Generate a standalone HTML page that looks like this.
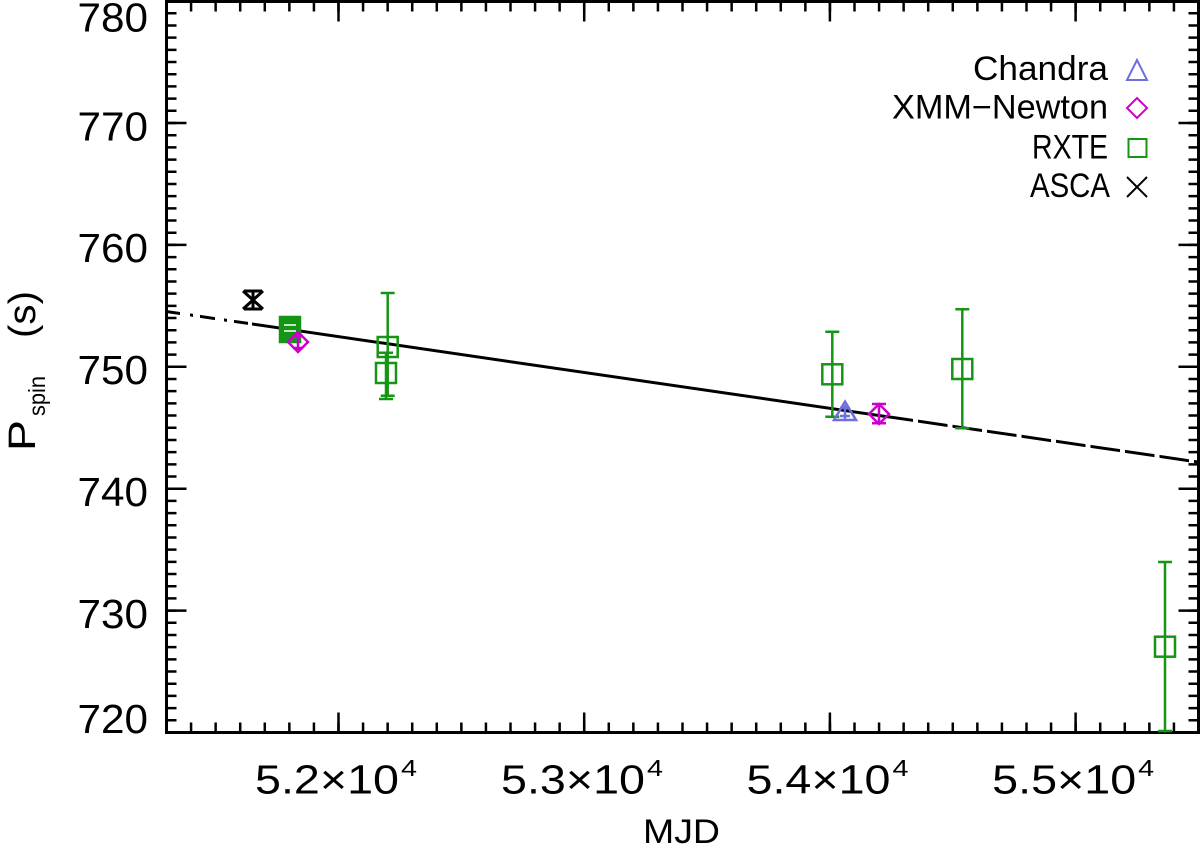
<!DOCTYPE html>
<html><head><meta charset="utf-8"><style>
html,body{margin:0;padding:0;background:#fff;}
svg{display:block;}
text{font-family:"Liberation Sans",sans-serif;fill:#000;}
</style></head><body>
<svg width="1200" height="848" viewBox="0 0 1200 848" xmlns="http://www.w3.org/2000/svg">
<rect width="1200" height="848" fill="#fff"/>

<!-- minor ticks -->
<g stroke="#000" fill="none">
  <line x1="171.5" y1="732.5" x2="171.5" y2="1.5" stroke-width="10" stroke-dasharray="2.5 9.69" stroke-dashoffset="1.25"/>
  <line x1="1193.5" y1="732.5" x2="1193.5" y2="1.5" stroke-width="10" stroke-dasharray="2.5 9.69" stroke-dashoffset="1.25"/>
  <line x1="166.5" y1="727.5" x2="1198.5" y2="727.5" stroke-width="10" stroke-dasharray="2.5 22.0714" stroke-dashoffset="1.25"/>
  <line x1="166.5" y1="6.5" x2="1198.5" y2="6.5" stroke-width="10" stroke-dasharray="2.5 22.0714" stroke-dashoffset="1.25"/>
</g>
<!-- major ticks -->
<g stroke="#000" stroke-width="2.5">
  <line x1="166.5" y1="610.6" x2="186.5" y2="610.6"/>
  <line x1="166.5" y1="488.7" x2="186.5" y2="488.7"/>
  <line x1="166.5" y1="366.8" x2="186.5" y2="366.8"/>
  <line x1="166.5" y1="244.9" x2="186.5" y2="244.9"/>
  <line x1="166.5" y1="123.0" x2="186.5" y2="123.0"/>
  <line x1="1178.5" y1="610.6" x2="1198.5" y2="610.6"/>
  <line x1="1178.5" y1="488.7" x2="1198.5" y2="488.7"/>
  <line x1="1178.5" y1="366.8" x2="1198.5" y2="366.8"/>
  <line x1="1178.5" y1="244.9" x2="1198.5" y2="244.9"/>
  <line x1="1178.5" y1="123.0" x2="1198.5" y2="123.0"/>
  <line x1="338.5" y1="732.5" x2="338.5" y2="712.5"/>
  <line x1="584.2" y1="732.5" x2="584.2" y2="712.5"/>
  <line x1="829.9" y1="732.5" x2="829.9" y2="712.5"/>
  <line x1="1075.6" y1="732.5" x2="1075.6" y2="712.5"/>
  <line x1="338.5" y1="1.5" x2="338.5" y2="21.5"/>
  <line x1="584.2" y1="1.5" x2="584.2" y2="21.5"/>
  <line x1="829.9" y1="1.5" x2="829.9" y2="21.5"/>
  <line x1="1075.6" y1="1.5" x2="1075.6" y2="21.5"/>
</g>
<!-- axes box -->
<rect x="166.5" y="1.5" width="1032" height="731" fill="none" stroke="#000" stroke-width="3"/>

<!-- y tick labels -->
<g font-size="41">
  <text x="77.5" y="31.5" textLength="70.5" lengthAdjust="spacingAndGlyphs">780</text>
  <text x="77.5" y="140.5" textLength="70.5" lengthAdjust="spacingAndGlyphs">770</text>
  <text x="77.5" y="262" textLength="70.5" lengthAdjust="spacingAndGlyphs">760</text>
  <text x="77.5" y="384" textLength="70.5" lengthAdjust="spacingAndGlyphs">750</text>
  <text x="77.5" y="506" textLength="70.5" lengthAdjust="spacingAndGlyphs">740</text>
  <text x="77.5" y="628" textLength="70.5" lengthAdjust="spacingAndGlyphs">730</text>
  <text x="77.5" y="733" textLength="70.5" lengthAdjust="spacingAndGlyphs">720</text>
</g>

<!-- x tick labels -->
<g>
  <text x="255" y="793.5" font-size="41" textLength="144" lengthAdjust="spacingAndGlyphs">5.2×10</text>
  <text x="401" y="776" font-size="23" textLength="16" lengthAdjust="spacingAndGlyphs">4</text>
  <text x="501" y="793.5" font-size="41" textLength="144" lengthAdjust="spacingAndGlyphs">5.3×10</text>
  <text x="647" y="776" font-size="23" textLength="16" lengthAdjust="spacingAndGlyphs">4</text>
  <text x="746.5" y="793.5" font-size="41" textLength="144" lengthAdjust="spacingAndGlyphs">5.4×10</text>
  <text x="892.5" y="776" font-size="23" textLength="16" lengthAdjust="spacingAndGlyphs">4</text>
  <text x="992.2" y="793.5" font-size="41" textLength="144" lengthAdjust="spacingAndGlyphs">5.5×10</text>
  <text x="1138.2" y="776" font-size="23" textLength="16" lengthAdjust="spacingAndGlyphs">4</text>
</g>

<!-- axis titles -->
<text x="643" y="843" font-size="34" textLength="77" lengthAdjust="spacingAndGlyphs">MJD</text>
<g transform="translate(35,451) rotate(-90)">
  <text x="0" y="0" font-size="38" textLength="31" lengthAdjust="spacingAndGlyphs">P</text>
  <text x="35" y="10" font-size="23" textLength="40" lengthAdjust="spacingAndGlyphs">spin</text>
  <text x="113" y="0" font-size="38" textLength="47" lengthAdjust="spacingAndGlyphs">(s)</text>
</g>

<!-- fit line -->
<g transform="translate(166.5,311.5) skewY(8.302)" stroke="#000" stroke-width="3" fill="none">
  <path d="M0.5 0H13.5M23.5 0H26.5M33.5 0H48.5M57.5 0H60.5M67.5 0H81.5"/>
  <path d="M85.5 0H746.5"/>
  <path d="M751.5 0H781M786 0H815.5M820.5 0H850M855 0H884.5M889.5 0H919M924 0H953.5M958.5 0H988M993 0H1022.5M1027.5 0H1031.5"/>
</g>

<!-- ASCA -->
<g stroke="#000" stroke-width="3" fill="none">
  <path d="M243 291L263 309M243 309L263 291"/>
  <path d="M244 291H262M244 309H262M253 291V309"/>
</g>

<!-- RXTE data -->
<g stroke="#149614" stroke-width="2.5" fill="none">
  <rect x="280" y="317" width="20" height="25" fill="#149614"/>
  <path d="M290 319V340M283 322H297M283 336H297"/>
  <rect x="377.7" y="337" width="20" height="20"/>
  <path d="M387.7 293V395.7M380.7 293H394.7M380.7 395.7H394.7"/>
  <rect x="376" y="363" width="20" height="20"/>
  <path d="M386 352.7V399M379 352.7H393M379 399H393"/>
  <rect x="822.3" y="364.3" width="20" height="20"/>
  <path d="M832.3 331.7V416.7M825.3 331.7H839.3M825.3 416.7H839.3"/>
  <rect x="952.3" y="359" width="20" height="20"/>
  <path d="M962.3 309.3V428.3M955.3 309.3H969.3M955.3 428.3H969.3"/>
  <rect x="1155" y="636.7" width="20" height="20"/>
  <path d="M1165 562V731M1158 562H1172M1158 731H1172"/>
</g>
<g stroke="#fff" stroke-width="1.5">
  <path d="M284 325H296M284 331H296"/>
</g>

<!-- XMM -->
<g stroke="#cc00cc" stroke-width="2.5" fill="none">
  <path d="M298 332L308 342L298 352L288 342Z"/>
  <path d="M298 334V350M293 336H303M293 348H303"/>
  <path d="M879 404L889 414L879 424L869 414Z"/>
  <path d="M879 404V423.3M872 404H886M872 423.3H886"/>
</g>

<!-- Chandra -->
<g stroke="#6e6edc" stroke-width="2.5" fill="none">
  <path d="M845 401.7L856 420L834 420Z"/>
  <path d="M845 405V419M840 408H850M840 416H850"/>
</g>

<!-- legend -->
<g font-size="34">
  <text x="973" y="80" textLength="135" lengthAdjust="spacingAndGlyphs">Chandra</text>
  <text x="892" y="118.5" textLength="216" lengthAdjust="spacingAndGlyphs">XMM−Newton</text>
  <text x="1032" y="158.5" textLength="76" lengthAdjust="spacingAndGlyphs">RXTE</text>
  <text x="1030" y="197" textLength="80" lengthAdjust="spacingAndGlyphs">ASCA</text>
</g>
<path d="M1137 60L1147 80L1127 80Z" fill="none" stroke="#6e6edc" stroke-width="2"/>
<path d="M1137 98L1147 108L1137 118L1127 108Z" fill="none" stroke="#cc00cc" stroke-width="2"/>
<rect x="1128.5" y="139" width="18" height="18" fill="none" stroke="#149614" stroke-width="2"/>
<path d="M1127 177L1147 197M1127 197L1147 177" stroke="#000" stroke-width="2"/>
</svg>
</body></html>
